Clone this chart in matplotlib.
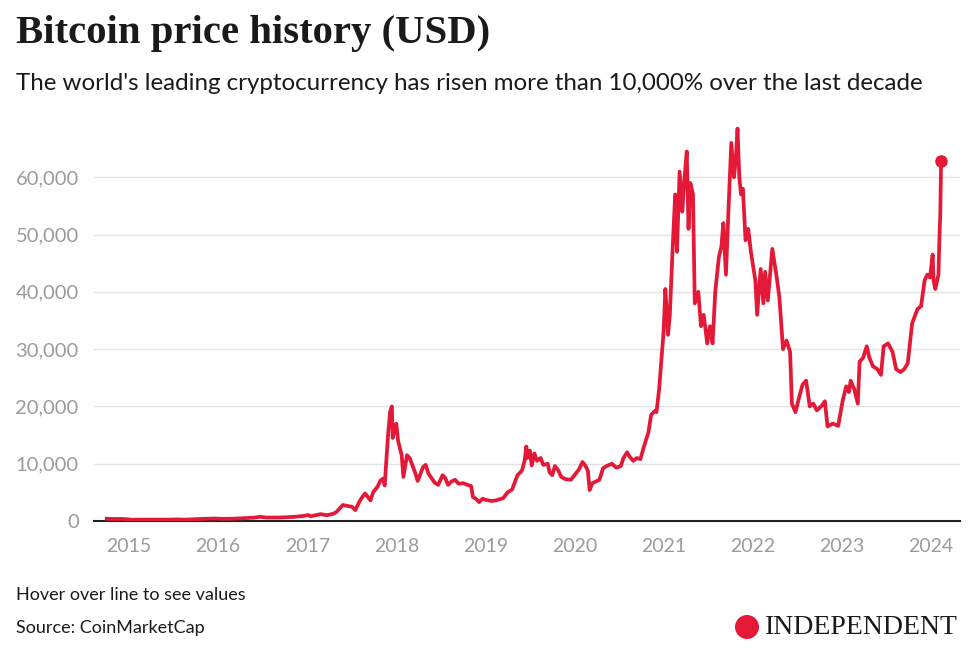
import numpy as np
import matplotlib.pyplot as plt
from matplotlib.patches import Ellipse
from matplotlib.ticker import FuncFormatter

#### data: time as decimal year, price in USD
anio = [
    2014.75, 2014.83, 2014.92, 2015.04, 2015.10, 2015.25, 2015.45, 2015.55, 2015.62, 2015.84,
    2015.96, 2016.05, 2016.20, 2016.40, 2016.47, 2016.55, 2016.70, 2016.85, 2016.97, 2017.01,
    2017.04, 2017.15, 2017.22, 2017.30, 2017.33, 2017.40, 2017.46, 2017.50, 2017.54, 2017.59,
    2017.62, 2017.65, 2017.68, 2017.71, 2017.74, 2017.79, 2017.82, 2017.85, 2017.87, 2017.89,
    2017.91, 2017.93, 2017.95, 2017.96, 2017.98, 2018.00, 2018.02, 2018.06, 2018.08, 2018.12,
    2018.15, 2018.21, 2018.24, 2018.27, 2018.30, 2018.33, 2018.36, 2018.39, 2018.43, 2018.47,
    2018.52, 2018.55, 2018.58, 2018.62, 2018.66, 2018.70, 2018.75, 2018.80, 2018.84, 2018.86,
    2018.90, 2018.93, 2018.97, 2019.00, 2019.07, 2019.12, 2019.20, 2019.25, 2019.30, 2019.36,
    2019.41, 2019.44, 2019.46, 2019.47, 2019.50, 2019.52, 2019.55, 2019.58, 2019.62, 2019.65,
    2019.70, 2019.72, 2019.75, 2019.78, 2019.82, 2019.85, 2019.90, 2019.96, 2020.00, 2020.05,
    2020.09, 2020.12, 2020.15, 2020.17, 2020.20, 2020.28, 2020.32, 2020.36, 2020.42, 2020.47,
    2020.52, 2020.55, 2020.59, 2020.62, 2020.66, 2020.70, 2020.74, 2020.77, 2020.80, 2020.83,
    2020.86, 2020.90, 2020.92, 2020.95, 2020.98, 2021.00, 2021.02, 2021.03, 2021.05, 2021.07,
    2021.10, 2021.13, 2021.15, 2021.18, 2021.21, 2021.23, 2021.26, 2021.28, 2021.30, 2021.33,
    2021.35, 2021.39, 2021.42, 2021.45, 2021.49, 2021.52, 2021.55, 2021.58, 2021.62, 2021.65,
    2021.67, 2021.70, 2021.73, 2021.76, 2021.79, 2021.81, 2021.83, 2021.85, 2021.87, 2021.89,
    2021.92, 2021.95, 2021.98, 2022.03, 2022.05, 2022.09, 2022.12, 2022.14, 2022.17, 2022.22,
    2022.27, 2022.30, 2022.34, 2022.38, 2022.42, 2022.44, 2022.48, 2022.52, 2022.56, 2022.60,
    2022.64, 2022.68, 2022.72, 2022.78, 2022.81, 2022.84, 2022.90, 2022.96, 2023.01, 2023.05,
    2023.08, 2023.10, 2023.14, 2023.18, 2023.20, 2023.24, 2023.28, 2023.31, 2023.35, 2023.40,
    2023.44, 2023.47, 2023.52, 2023.57, 2023.61, 2023.66, 2023.70, 2023.74, 2023.79, 2023.85,
    2023.89, 2023.93, 2023.96, 2023.99, 2024.02, 2024.03, 2024.05, 2024.085, 2024.10, 2024.105,
    2024.115,
]
precio = [
    400, 350, 360, 220, 240, 240, 240, 280, 230, 380,
    430, 380, 420, 580, 720, 600, 610, 720, 900, 1050,
    820, 1200, 1000, 1300, 1600, 2800, 2600, 2500, 1900, 3500,
    4200, 4800, 4200, 3600, 5000, 6000, 7000, 7400, 6200, 11000,
    15500, 19000, 20000, 14500, 16000, 17000, 14000, 11500, 7700, 11500,
    11000, 8500, 7000, 8200, 9400, 9800, 8300, 7600, 6700, 6300,
    8000, 7500, 6300, 6900, 7200, 6500, 6600, 6300, 6100, 4200,
    3800, 3300, 3900, 3700, 3500, 3600, 4000, 5000, 5500, 8000,
    8800, 10500, 13000, 11000, 12300, 9700, 11800, 10500, 11000, 9800,
    10000, 8500, 8000, 9600, 8800, 7700, 7300, 7200, 8000, 9000,
    10300, 9700, 8800, 5400, 6600, 7200, 9200, 9600, 10000, 9300,
    9600, 11000, 12000, 11200, 10500, 11000, 10800, 12500, 14000, 15500,
    18500, 19200, 19000, 23000, 29000, 33000, 40500, 38000, 32500, 36000,
    47000, 57000, 47000, 61000, 54000, 59000, 64500, 51000, 59000, 57000,
    38000, 40000, 34000, 36000, 31000, 34000, 31000, 40000, 46000, 48000,
    52000, 43000, 55000, 66000, 60000, 63000, 68500, 60000, 57000, 58000,
    49000, 51000, 47000, 42000, 36000, 44000, 38000, 43500, 38500, 47500,
    42500, 39000, 30000, 31500, 29500, 20500, 19000, 21500, 23800, 24500,
    20000, 20500, 19300, 20200, 20900, 16500, 17000, 16600, 21000, 23500,
    22500, 24500, 23000, 20500, 27800, 28500, 30500, 28500, 27000, 26500,
    25500, 30500, 31000, 29500, 26500, 26000, 26500, 27500, 34500, 37000,
    37500, 42000, 43000, 42500, 46500, 42000, 40500, 43000, 51500, 53000,
    62800,
]
anios_eje = list(range(2015, 2025))
valores_eje = list(range(0, 70000, 10000))

rojo = "#e31937"
gris = "#9b9b9b"
negro = "#1a1a1a"

fig = plt.figure(figsize=(9.75, 6.6), dpi=100)
ax = fig.add_axes([94/975, 1 - 521/660, (960 - 94)/975, (521 - 120)/660])

ax.plot(anio, precio, color=rojo, lw=2.7, solid_joinstyle="round", zorder=3)
ax.plot(anio[-1], precio[-1], "o", color=rojo, ms=8, zorder=4)

ax.set_ylim(0, 70000)
ax.set_xlim(2014.607, 2024.327)
ax.set_yticks(valores_eje)
ax.yaxis.set_major_formatter(FuncFormatter(lambda v, p: f"{int(v):,}"))
ax.set_xticks(anios_eje)
ax.xaxis.set_major_formatter(FuncFormatter(lambda v, p: f"{int(round(v))}"))

ax.grid(axis="y", color="#e3e3e3", lw=1)
ax.set_axisbelow(True)
for s in ["top", "right", "left"]:
    ax.spines[s].set_visible(False)
ax.spines["bottom"].set_color("#222222")
ax.spines["bottom"].set_linewidth(1.5)
ax.tick_params(axis="both", length=0, labelcolor=gris)
ax.tick_params(axis="y", pad=11, labelsize=14.5)
ax.tick_params(axis="x", pad=12, labelsize=14)
for t in ax.get_xticklabels() + ax.get_yticklabels():
    t.set_fontfamily("Lato")

# titulos
fig.text(16/975, 1 - 34/660, "Bitcoin price history (USD)", fontfamily="Liberation Serif",
         fontweight="bold", fontsize=29.3, va="center", ha="left", color=negro)
fig.text(16/975, 1 - 83/660,
         "The world's leading cryptocurrency has risen more than 10,000% over the last decade",
         fontfamily="Lato", fontsize=17.4, va="center", ha="left", color=negro)

# pie
fig.text(16/975, 1 - 595/660, "Hover over line to see values", fontfamily="Lato",
         fontsize=13, va="center", ha="left", color=negro)
fig.text(16/975, 1 - 628/660, "Source: CoinMarketCap", fontfamily="Lato",
         fontsize=13, va="center", ha="left", color=negro)

logo = Ellipse((747/975, 1 - 627/660), 24/975, 24/660, transform=fig.transFigure,
               facecolor=rojo, edgecolor="none")
fig.patches.append(logo)
fig.text(958/975, 1 - 627/660, "INDEPENDENT", fontfamily="Liberation Serif",
         fontsize=20, va="center", ha="right", color=negro)

fig.savefig("out.png", dpi=100)
